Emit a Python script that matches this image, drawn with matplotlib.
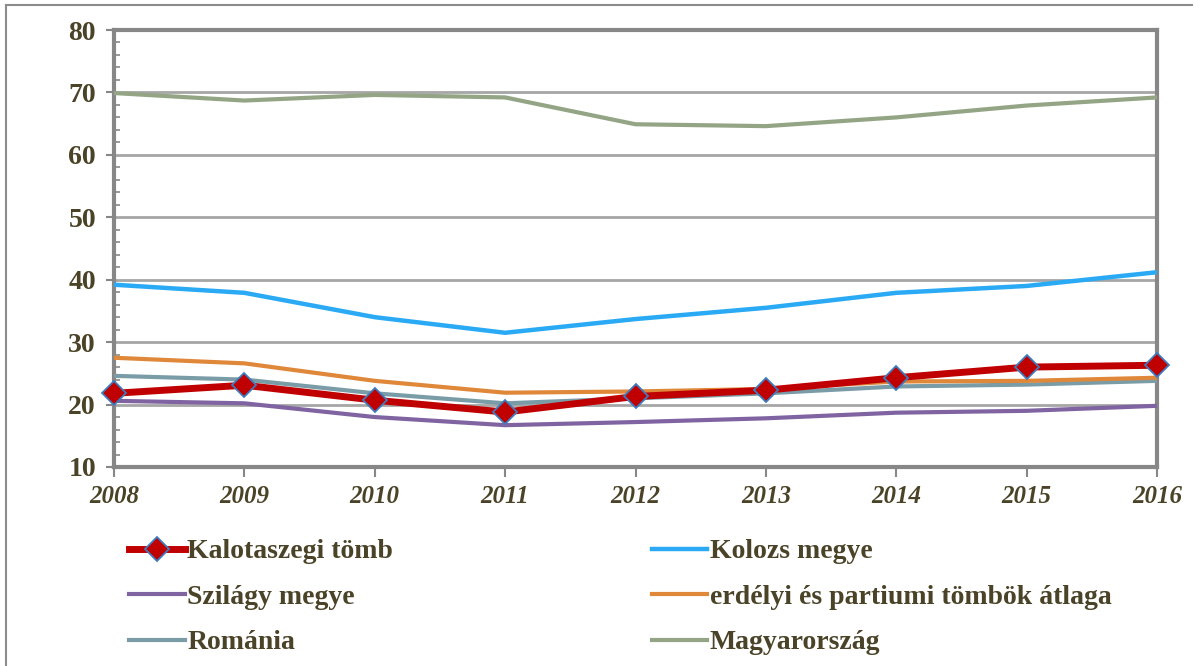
import numpy as np
import matplotlib.pyplot as plt
from matplotlib.lines import Line2D

years = [2008, 2009, 2010, 2011, 2012, 2013, 2014, 2015, 2016]
kalotaszeg = [21.8, 23.1, 20.7, 18.8, 21.3, 22.3, 24.3, 26.0, 26.3]
kolozs = [39.2, 37.9, 34.0, 31.5, 33.7, 35.5, 37.9, 39.0, 41.2]
szilagy = [20.6, 20.2, 18.0, 16.7, 17.2, 17.8, 18.7, 19.0, 19.8]
erdelyi = [27.5, 26.6, 23.8, 21.9, 22.1, 22.5, 23.7, 23.8, 24.3]
romania = [24.6, 24.0, 21.8, 20.2, 21.0, 21.8, 22.9, 23.2, 23.8]
magyar = [69.9, 68.7, 69.6, 69.2, 64.9, 64.6, 66.0, 67.9, 69.2]

txt = '#4a4327'
plt.rcParams['font.family'] = ['Liberation Serif', 'DejaVu Serif']
plt.rcParams['font.weight'] = 'bold'

fig = plt.figure(figsize=(12.01, 6.66), dpi=100)
ax = fig.add_axes([114/1201, 1-467/666, (1157-114)/1201, (467-30)/666])

l_mag, = ax.plot(years, magyar, color='#93a584', lw=3, label='Magyarország', zorder=3)
l_kol, = ax.plot(years, kolozs, color='#2aaaf5', lw=3.2, label='Kolozs megye', zorder=3)
l_szi, = ax.plot(years, szilagy, color='#8064a2', lw=3, label='Szilágy megye', zorder=3)
l_rom, = ax.plot(years, romania, color='#7a9ca6', lw=3, label='Románia', zorder=3)
l_erd, = ax.plot(years, erdelyi, color='#e0883a', lw=3, label='erdélyi és partiumi tömbök átlaga', zorder=4)
l_kal, = ax.plot(years, kalotaszeg, color='#c00000', lw=5, marker='D', markersize=12.5,
                 markerfacecolor='#c00000', markeredgecolor='#3d7cc0', markeredgewidth=1.3,
                 label='Kalotaszegi tömb', zorder=5, clip_on=False)

ax.set_xlim(2008, 2016)
ax.set_ylim(10, 80)
ax.set_yticks(np.arange(10, 81, 10))
ax.set_yticks(np.arange(10, 81, 2), minor=True)
ax.set_xticks(years)
ax.grid(axis='y', color='#a6a6a6', lw=2, zorder=1)
for s in ax.spines.values():
    s.set_color('#878787')
    s.set_linewidth(3)
ax.tick_params(axis='y', which='major', direction='out', length=6, width=1.5, color='#878787',
               labelsize=20, labelcolor=txt, pad=7)
ax.tick_params(axis='y', which='minor', direction='in', length=4, width=1.2, color='#878787')
ax.tick_params(axis='x', which='major', direction='out', length=7, width=1.5, color='#878787',
               labelsize=18, labelcolor=txt, pad=6)
for lab in ax.get_xticklabels():
    lab.set_style('italic')
    lab.set_fontweight('bold')
for lab in ax.get_yticklabels():
    lab.set_fontweight('bold')

handles = [l_kal, l_szi, l_rom, l_kol, l_erd, l_mag]
leg = fig.legend(handles=handles, labels=[h.get_label() for h in handles], ncol=2,
                 loc='upper left', bbox_to_anchor=(129/1201, 1-539/666), frameon=False,
                 fontsize=20, handlelength=2.0, handletextpad=0.1, columnspacing=9.3,
                 labelspacing=0.72, borderpad=0, borderaxespad=0)
for t in leg.get_texts():
    t.set_color(txt)
    t.set_fontweight('bold')

# outer frame (top and left)
fig.add_artist(Line2D([6/1201, 1192/1201], [1-5/666, 1-5/666], color='#8c8c8c', lw=1.5))
fig.add_artist(Line2D([6/1201, 6/1201], [1-5/666, 0], color='#8c8c8c', lw=1.5))

fig.savefig('out.png', dpi=100)
